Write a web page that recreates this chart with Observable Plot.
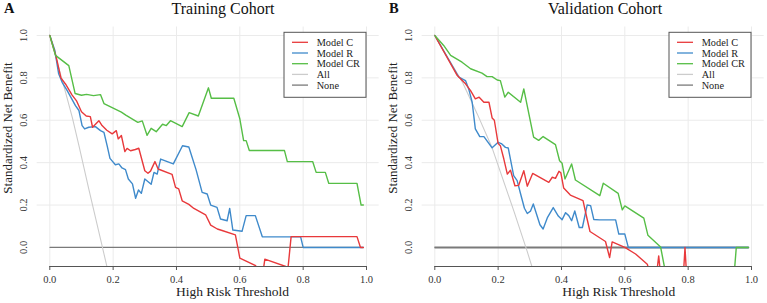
<!DOCTYPE html>
<html>
<head>
<meta charset="utf-8">
<script src="https://cdn.jsdelivr.net/npm/d3@7"></script>
<script src="https://cdn.jsdelivr.net/npm/@observablehq/plot@0.6"></script>
<style>
  html, body { margin: 0; padding: 0; background: #fff; }
  #wrap { position: relative; width: 767px; height: 303px; overflow: hidden; font-family: "Liberation Serif", "Times New Roman", serif; }
  .panel { position: absolute; top: 0; }
  #overlay { position: absolute; left: 0; top: 0; pointer-events: none; }
</style>
</head>
<body>
<div id="wrap"></div>
<script>
// ---------- data ----------
const panelLetters = ["A", "B"];
const panelTitles = ["Training Cohort", "Validation Cohort"];
const xLabel = "High Risk Threshold";
const yLabel = "Standardized Net Benefit";
const xTicks = [0, 0.2, 0.4, 0.6, 0.8, 1.0];
const yTicks = [0, 0.2, 0.4, 0.6, 0.8, 1.0];
const gridX = [0, 0.2, 0.4, 0.6, 0.8, 1.0];
const gridY = [0.2, 0.4, 0.6, 0.8, 1.0];
const seriesNames = ["Model C", "Model R", "Model CR", "All", "None"];
const seriesColors = ["#E8393B", "#3F8ACB", "#56BE46", "#CCCCCC", "#7A7A7A"];

// Training cohort [threshold, standardized net benefit]
const trainC = [[0,1],[0.02,0.9],[0.035,0.8],[0.05,0.77],[0.07,0.72],[0.085,0.69],[0.1,0.64],[0.115,0.62],[0.128,0.617],[0.135,0.567],[0.155,0.598],[0.165,0.575],[0.18,0.553],[0.197,0.536],[0.21,0.551],[0.216,0.512],[0.226,0.528],[0.237,0.452],[0.244,0.467],[0.255,0.456],[0.27,0.462],[0.281,0.468],[0.3,0.362],[0.31,0.35],[0.318,0.36],[0.332,0.405],[0.342,0.37],[0.386,0.345],[0.397,0.283],[0.407,0.276],[0.418,0.22],[0.439,0.203],[0.455,0.184],[0.492,0.154],[0.508,0.105],[0.529,0.087],[0.544,0.08],[0.586,0.059],[0.6,-0.05],[0.65,-0.086],[0.66,-0.13],[0.672,-0.13],[0.679,-0.055],[0.745,-0.09],[0.75,-0.13],[0.762,0.051],[0.97,0.051],[0.981,0],[0.99,0]];
const trainR = [[0,1],[0.016,0.929],[0.028,0.819],[0.039,0.779],[0.055,0.74],[0.081,0.669],[0.092,0.646],[0.102,0.575],[0.11,0.559],[0.123,0.567],[0.144,0.57],[0.16,0.551],[0.171,0.543],[0.181,0.48],[0.19,0.42],[0.207,0.39],[0.218,0.394],[0.228,0.375],[0.239,0.367],[0.248,0.323],[0.261,0.3],[0.271,0.232],[0.28,0.271],[0.289,0.255],[0.3,0.323],[0.32,0.298],[0.329,0.354],[0.339,0.346],[0.35,0.417],[0.39,0.394],[0.419,0.48],[0.439,0.474],[0.462,0.366],[0.481,0.26],[0.497,0.252],[0.508,0.2],[0.528,0.189],[0.539,0.134],[0.56,0.126],[0.568,0.184],[0.578,0.082],[0.607,0.076],[0.62,0.15],[0.649,0.15],[0.671,0.05],[0.792,0.05],[0.8,0],[0.99,0]];
const trainCR = [[0,1],[0.018,0.906],[0.06,0.858],[0.08,0.726],[0.1,0.718],[0.116,0.722],[0.138,0.716],[0.16,0.721],[0.171,0.679],[0.226,0.638],[0.24,0.624],[0.278,0.59],[0.292,0.597],[0.307,0.529],[0.32,0.562],[0.336,0.546],[0.356,0.581],[0.368,0.575],[0.381,0.598],[0.418,0.57],[0.44,0.636],[0.469,0.62],[0.501,0.753],[0.51,0.704],[0.581,0.704],[0.6,0.607],[0.612,0.504],[0.62,0.504],[0.63,0.457],[0.741,0.457],[0.75,0.405],[0.83,0.405],[0.841,0.354],[0.87,0.354],[0.881,0.302],[0.97,0.302],[0.983,0.2],[0.99,0.2]];
const trainAll = [[0,1],[0.05,0.73],[0.071,0.614],[0.092,0.48],[0.123,0.276],[0.16,0.04],[0.185,-0.12]];
const trainNone = [[0,0],[0.99,0]];

// Validation cohort
const valC = [[0,1],[0.071,0.811],[0.097,0.772],[0.113,0.74],[0.128,0.701],[0.14,0.709],[0.155,0.685],[0.171,0.685],[0.181,0.611],[0.188,0.6],[0.2,0.49],[0.207,0.48],[0.218,0.417],[0.229,0.346],[0.239,0.364],[0.253,0.291],[0.265,0.293],[0.281,0.362],[0.292,0.289],[0.309,0.349],[0.36,0.307],[0.371,0.331],[0.381,0.326],[0.392,0.359],[0.398,0.352],[0.407,0.28],[0.428,0.247],[0.468,0.221],[0.48,0.14],[0.49,0.075],[0.539,0.028],[0.552,-0.048],[0.56,0.026],[0.6,0],[0.634,-0.031],[0.671,-0.079],[0.68,-0.13],[0.7,-0.13],[0.707,-0.04],[0.713,-0.13],[0.785,-0.13],[0.79,0],[0.795,-0.13],[0.99,-0.13]];
const valR = [[0,1],[0.076,0.803],[0.097,0.787],[0.107,0.748],[0.118,0.685],[0.128,0.559],[0.142,0.523],[0.155,0.523],[0.181,0.47],[0.2,0.496],[0.21,0.49],[0.223,0.472],[0.232,0.469],[0.249,0.339],[0.26,0.315],[0.271,0.252],[0.283,0.185],[0.292,0.16],[0.302,0.171],[0.311,0.205],[0.332,0.107],[0.342,0.087],[0.356,0.142],[0.374,0.188],[0.39,0.148],[0.402,0.131],[0.413,0.164],[0.423,0.15],[0.432,0.126],[0.442,0.172],[0.456,0.094],[0.466,0.094],[0.481,0.2],[0.492,0.197],[0.502,0.132],[0.52,0.13],[0.571,0.13],[0.581,0.063],[0.6,0.063],[0.611,0],[0.99,0]];
const valCR = [[0,1],[0.028,0.953],[0.05,0.906],[0.086,0.874],[0.113,0.843],[0.149,0.822],[0.165,0.806],[0.181,0.806],[0.197,0.79],[0.207,0.787],[0.221,0.709],[0.232,0.732],[0.271,0.685],[0.281,0.748],[0.312,0.52],[0.328,0.505],[0.342,0.523],[0.381,0.485],[0.394,0.409],[0.402,0.397],[0.411,0.323],[0.432,0.394],[0.444,0.318],[0.521,0.244],[0.532,0.303],[0.579,0.255],[0.592,0.177],[0.6,0.196],[0.66,0.138],[0.673,0.057],[0.713,0.002],[0.73,-0.13],[0.945,-0.13],[0.952,0],[0.99,0]];
const valAll = [[0,1],[0.087,0.78],[0.134,0.63],[0.181,0.47],[0.25,0.17],[0.292,-0.02],[0.315,-0.13]];
const valNone = [[0,0],[0.99,0]];

// ---------- layout constants ----------
const H = 303;
const xDomain = [0, 1];
const yDomain = [-0.09, 1.04];
const gridXSpan = [-0.04, 1.04];
const panels = [
  {left: 0, width: 383, mr: 17, data: [trainC, trainR, trainCR, trainAll, trainNone], noneW: 1.2, titleX: 223, xLabX: 232.5},
  {left: 385, width: 382, mr: 16, data: [valC, valR, valCR, valAll, valNone], noneW: 2, titleX: 220, xLabX: 233.7}
];
const ML = 49.3, MT = 26.5, MB = 37;

const wrap = document.getElementById("wrap");
const fmt = d3.format(".1f");

panels.forEach((p, pi) => {
  const [C, R, CR, All, None] = p.data;
  const line = (d, i, w) => Plot.line(d, {x: v => v[0], y: v => v[1], stroke: seriesColors[i], strokeWidth: w, clip: true, curve: "linear"});
  const chart = Plot.plot({
    width: p.width,
    height: H,
    marginLeft: ML,
    marginRight: p.mr,
    marginTop: MT,
    marginBottom: MB,
    x: {domain: xDomain, axis: null},
    y: {domain: yDomain, axis: null},
    style: {fontFamily: "'Liberation Serif', 'Times New Roman', serif", fontSize: "10.5px", color: "#333", background: "transparent", overflow: "visible"},
    marks: [
      Plot.ruleX(gridX, {x: d => d, y1: yDomain[0], y2: yDomain[1], stroke: "#EBEBEB", strokeWidth: 1}),
      Plot.ruleY(gridY, {y: d => d, x1: gridXSpan[0], x2: gridXSpan[1], stroke: "#EBEBEB", strokeWidth: 1}),
      line(None, 4, p.noneW),
      line(All, 3, 1.1),
      line(R, 1, 1.4),
      line(C, 0, 1.4),
      line(CR, 2, 1.4),
      Plot.ruleY([yDomain[0]], {x1: xTicks[0], x2: xTicks[xTicks.length - 1], stroke: "#555", strokeWidth: 1}),
      Plot.axisX({ticks: xTicks, tickFormat: fmt, tickSize: 4, tickPadding: 5, label: null, stroke: "#555", fill: "#333", fontSize: 10.5, fontFamily: "'Liberation Serif', serif"}),
      Plot.text(yTicks, {y: d => d, text: d => fmt(d), frameAnchor: "left", dx: -26, rotate: -90, textAnchor: "middle", lineAnchor: "middle", fill: "#333", fontSize: 10.5, fontFamily: "'Liberation Serif', serif"})
    ]
  });
  const div = document.createElement("div");
  div.className = "panel";
  div.style.left = p.left + "px";
  div.appendChild(chart);
  wrap.appendChild(div);
});

// ---------- overlay text & legends ----------
const ns = "http://www.w3.org/2000/svg";
const svg = document.createElementNS(ns, "svg");
svg.setAttribute("id", "overlay");
svg.setAttribute("width", 767);
svg.setAttribute("height", H);
svg.setAttribute("font-family", "'Liberation Serif', 'Times New Roman', serif");
function txt(x, y, s, opts = {}) {
  const t = document.createElementNS(ns, "text");
  t.setAttribute("x", x); t.setAttribute("y", y);
  t.setAttribute("font-size", opts.size || 13);
  t.setAttribute("fill", opts.fill || "#222");
  if (opts.weight) t.setAttribute("font-weight", opts.weight);
  if (opts.anchor) t.setAttribute("text-anchor", opts.anchor);
  if (opts.rotate) t.setAttribute("transform", `rotate(${opts.rotate} ${x} ${y})`);
  t.textContent = s;
  svg.appendChild(t);
  return t;
}
function el(tag, attrs) {
  const e = document.createElementNS(ns, tag);
  for (const k in attrs) e.setAttribute(k, attrs[k]);
  svg.appendChild(e);
  return e;
}
panels.forEach((p, pi) => {
  const L = p.left;
  txt(L + 4, 13.3, panelLetters[pi], {size: 14.5, weight: "bold", fill: "#111"});
  txt(L + p.titleX, 14, panelTitles[pi], {size: 16, anchor: "middle", fill: "#111"});
  txt(L + p.xLabX, 295.5, xLabel, {size: 13.5, anchor: "middle", fill: "#222"});
  txt(L + 11.8, 128, yLabel, {size: 13, anchor: "middle", rotate: -90, fill: "#222"});
  // legend
  const frameRight = p.width - p.mr;
  const bx = L + frameRight - 82, by = 32.3, bw = 82, bh = 65;
  el("rect", {x: bx, y: by, width: bw, height: bh, fill: "#fff", stroke: "#555", "stroke-width": 1});
  seriesNames.forEach((name, i) => {
    const cy = 42.3 + i * 10.7;
    el("line", {x1: bx + 8, x2: bx + 24, y1: cy, y2: cy, stroke: seriesColors[i], "stroke-width": 1.3});
    txt(bx + 32.7, cy + 3.5, name, {size: 10.3, fill: "#222"});
  });
});
wrap.appendChild(svg);
</script>
</body>
</html>
